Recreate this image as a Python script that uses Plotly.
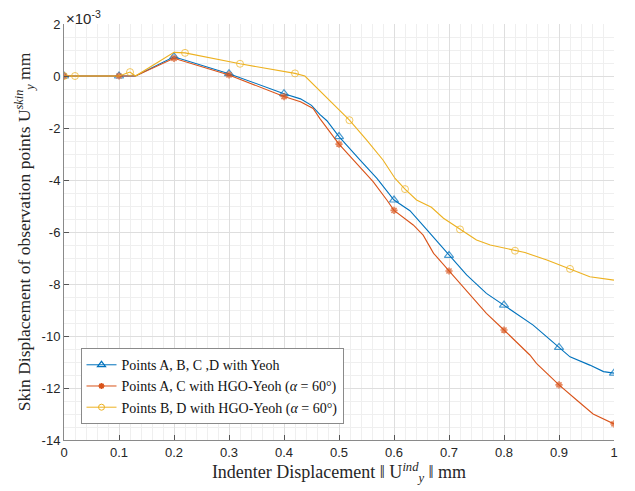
import plotly.graph_objects as go

# Values in units of 1e-3 mm (axis shows x10^-3)
yeoh_x = [0, 0.1, 0.13, 0.2, 0.3, 0.4, 0.43, 0.45, 0.465, 0.478, 0.5, 0.538, 0.569, 0.6, 0.629,
          0.66, 0.7, 0.732, 0.768, 0.8, 0.823, 0.853, 0.881, 0.9, 0.92, 0.956, 0.981, 1.0]
yeoh_y = [0, 0, 0.0, 0.74, 0.09, -0.68, -0.88, -1.13, -1.48, -1.72, -2.33, -3.23, -3.94, -4.77, -5.18,
          -5.92, -6.90, -7.65, -8.36, -8.81, -9.13, -9.58, -10.09, -10.44, -10.8, -11.12, -11.37, -11.43]
yeoh_marked = [0, 0.1, 0.2, 0.3, 0.4, 0.5, 0.6, 0.7, 0.8, 0.9, 1.0]

ac_x = [0, 0.1, 0.13, 0.2, 0.3, 0.4, 0.43, 0.453, 0.465, 0.5, 0.532, 0.562, 0.587, 0.6, 0.635,
        0.653, 0.672, 0.7, 0.732, 0.768, 0.8, 0.847, 0.859, 0.9, 0.932, 0.941, 0.962, 1.0]
ac_y = [0, 0, 0, 0.68, 0.04, -0.79, -0.99, -1.25, -1.63, -2.62, -3.36, -4.06, -4.77, -5.17, -5.73,
        -6.12, -6.82, -7.50, -8.29, -9.13, -9.77, -10.73, -11.05, -11.88, -12.46, -12.62, -13.0, -13.38]
ac_marked = [0, 0.1, 0.2, 0.3, 0.4, 0.5, 0.6, 0.7, 0.8, 0.9, 1.0]

bd_x = [0, 0.02, 0.1, 0.12, 0.13, 0.2, 0.22, 0.32, 0.42, 0.438, 0.459, 0.49, 0.519, 0.55, 0.58,
        0.602, 0.62, 0.641, 0.668, 0.69, 0.72, 0.75, 0.775, 0.793, 0.82, 0.838, 0.878, 0.92, 0.956, 1.0]
bd_y = [0, 0, 0, 0.15, 0.0, 0.91, 0.89, 0.47, 0.10, 0.0, -0.45, -1.1, -1.70, -2.46, -3.23,
        -3.94, -4.35, -4.77, -5.05, -5.47, -5.90, -6.31, -6.5, -6.59, -6.72, -6.79, -7.08, -7.42, -7.72, -7.85]
bd_marked = [0, 0.02, 0.12, 0.22, 0.32, 0.42, 0.52, 0.62, 0.72, 0.82, 0.92]

x_ticks = [0, 0.1, 0.2, 0.3, 0.4, 0.5, 0.6, 0.7, 0.8, 0.9, 1]
x_tick_labels = ["0", "0.1", "0.2", "0.3", "0.4", "0.5", "0.6", "0.7", "0.8", "0.9", "1"]
y_ticks = [-14, -12, -10, -8, -6, -4, -2, 0, 2]
y_tick_labels = ["-14", "-12", "-10", "-8", "-6", "-4", "-2", "0", "2"]

names = ["Points A, B, C ,D with Yeoh",
         "Points A, C with HGO-Yeoh (<i>α</i> = 60°)",
         "Points B, D with HGO-Yeoh (<i>α</i> = 60°)"]


def sizes(xs, marked, s):
    return [s if any(abs(x - m) < 0.006 for m in marked) else 0 for x in xs]


series = [
    (yeoh_x, yeoh_y, yeoh_marked, "#0072BD", "triangle-up-open", 8, 1.2),
    (ac_x, ac_y, ac_marked, "#D95319", "asterisk-open", 6, 1.6),
    (bd_x, bd_y, bd_marked, "#EDB120", "circle-open", 7, 1.0),
]

fig = go.Figure()
for (xs, ys, mk, col, sym, ms, mlw), nm in zip(series, names):
    fig.add_trace(go.Scatter(x=xs, y=ys, name=nm, mode="lines+markers", showlegend=False,
                             line=dict(color=col, width=1.1),
                             marker=dict(symbol=sym, size=sizes(xs, mk, ms), color=col,
                                         line=dict(width=mlw, color=col))))
for (xs, ys, mk, col, sym, ms, mlw), nm in zip(series, names):
    fig.add_trace(go.Scatter(x=[None], y=[None], name=nm, mode="lines+markers",
                             line=dict(color=col, width=1),
                             marker=dict(symbol=sym, size=ms - 1, color=col,
                                         line=dict(width=mlw, color=col))))

axis_common = dict(showgrid=True, gridcolor="#dedede", gridwidth=1, automargin=False,
                   zeroline=False, showline=True, linecolor="#8a8a8a", linewidth=1,
                   ticks="inside", ticklen=5, tickcolor="#555", tickwidth=1,
                   tickfont=dict(family="Liberation Sans, Arial", size=13, color="#262626"))

fig.update_xaxes(range=[0, 1], tickvals=x_ticks, ticktext=x_tick_labels,
                 minor=dict(dtick=0.02, showgrid=True, gridcolor="#efefef", gridwidth=1),
                 title=dict(text="Indenter Displacement ‖ U<sup><i>ind</i></sup><sub><i>y</i></sub> ‖ mm",
                            font=dict(family="Liberation Serif, Times New Roman", size=18, color="#262626"),
                            standoff=4),
                 **axis_common)
fig.update_yaxes(range=[-14, 2], tickvals=y_ticks, ticktext=y_tick_labels,
                 minor=dict(dtick=0.5, showgrid=True, gridcolor="#efefef", gridwidth=1),
                 title=dict(text="Skin Displacement of observation points U<sup><i>skin</i></sup><sub><i>y</i></sub> mm",
                            font=dict(family="Liberation Serif, Times New Roman", size=17.5, color="#262626"),
                            standoff=6),
                 **axis_common)

fig.add_annotation(text="×10<sup>-3</sup>", xref="paper", yref="paper", x=0, y=1,
                   xanchor="left", yanchor="bottom", showarrow=False, yshift=-5,
                   font=dict(family="Liberation Sans, Arial", size=15, color="#262626"))

# page body adds an 8px offset, so the figure is 8px smaller and margins shifted
fig.update_layout(width=627, height=483, margin=dict(l=56, r=21, t=16, b=51),
                  plot_bgcolor="white", paper_bgcolor="white",
                  legend=dict(x=0.03, y=0.038, xanchor="left", yanchor="bottom",
                              bgcolor="white", bordercolor="#8a8a8a", borderwidth=1,
                              font=dict(family="Liberation Serif, Times New Roman", size=14, color="#111"),
                              tracegroupgap=0, itemwidth=30))

fig.write_html("out.html")
